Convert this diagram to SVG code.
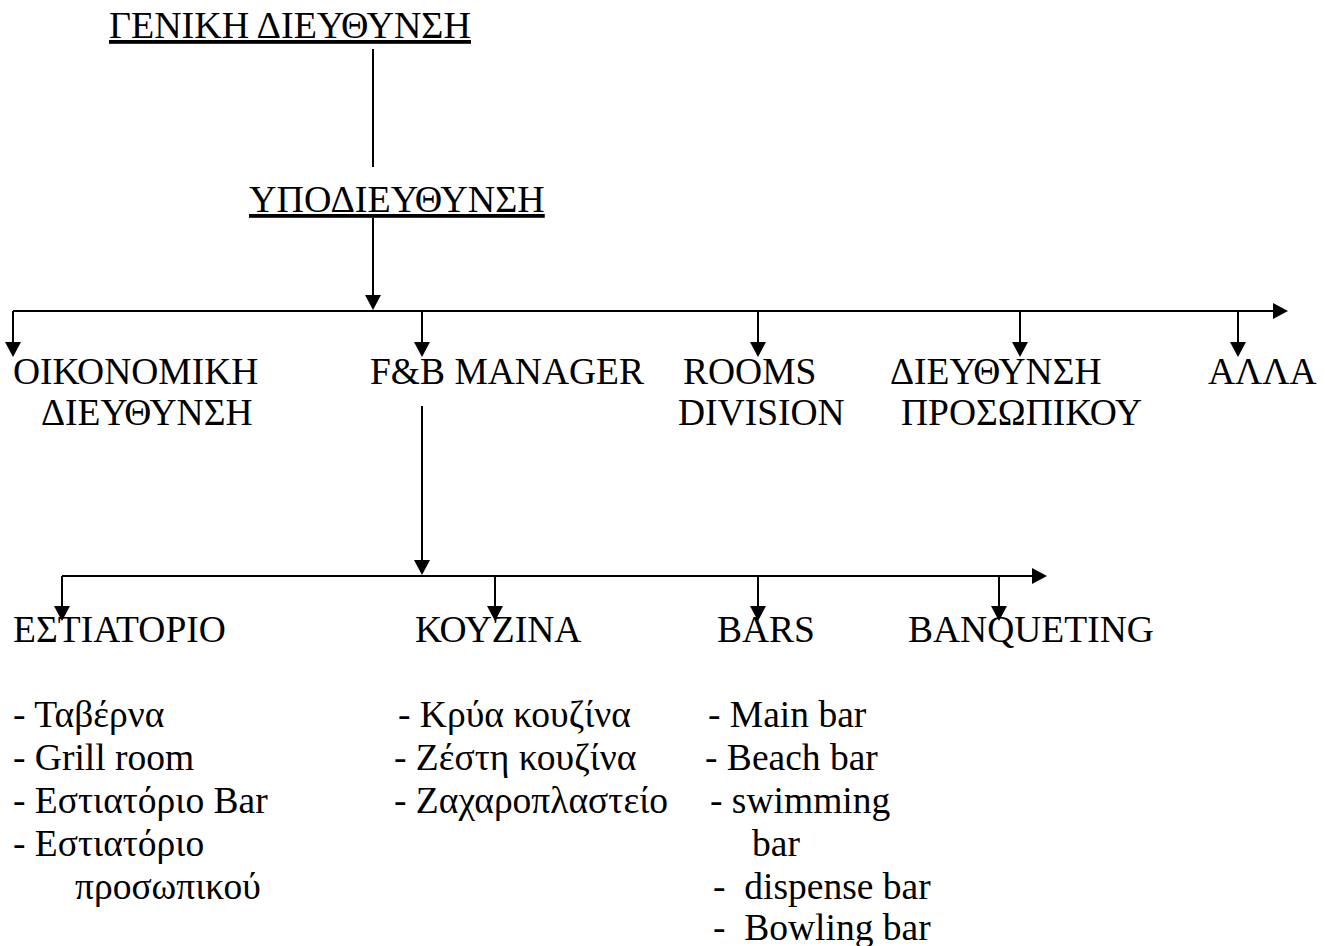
<svg xmlns="http://www.w3.org/2000/svg" width="1325" height="946" viewBox="0 0 1325 946">
<style>
text{font-family:'Liberation Serif','Times New Roman',serif;font-size:37.5px;fill:#000}
.u{text-decoration:underline;font-size:38px}
.ln{stroke:#000;stroke-width:2;fill:none}
.ar{marker-end:url(#ah)}
</style>
<defs>
<marker id="ah" markerUnits="userSpaceOnUse" viewBox="0 0 15 16" refX="11" refY="8" markerWidth="15" markerHeight="16" orient="auto">
<path d="M0,0 L15,8 L0,16 z" fill="#000"/>
</marker>
</defs>
<rect width="1325" height="946" fill="#fff"/>
<g id="connectors">
<line class="ln" x1="373" y1="49" x2="373" y2="167"/>
<line class="ln ar" x1="373" y1="218" x2="373" y2="306"/>
<line class="ln ar" x1="13" y1="311" x2="1284" y2="311"/>
<line class="ln ar" x1="13" y1="311" x2="13" y2="353"/>
<line class="ln ar" x1="422" y1="311" x2="422" y2="353"/>
<line class="ln ar" x1="758" y1="311" x2="758" y2="353"/>
<line class="ln ar" x1="1020" y1="311" x2="1020" y2="353"/>
<line class="ln ar" x1="1238" y1="311" x2="1238" y2="353"/>
<line class="ln ar" x1="422" y1="406" x2="422" y2="571"/>
<line class="ln ar" x1="62" y1="576" x2="1043" y2="576"/>
<line class="ln ar" x1="62" y1="576" x2="62" y2="617"/>
<line class="ln ar" x1="495" y1="576" x2="495" y2="617"/>
<line class="ln ar" x1="758" y1="576" x2="758" y2="617"/>
<line class="ln ar" x1="999" y1="576" x2="999" y2="617"/>
</g>
<g id="n-geniki"><text class="u" x="109" y="38">ΓΕΝΙΚΗ ΔΙΕΥΘΥΝΣΗ</text></g>
<g id="n-ypodieuthynsi"><text class="u" x="249" y="212">ΥΠΟΔΙΕΥΘΥΝΣΗ</text></g>
<g id="n-oikonomiki"><text x="13" y="384">ΟΙΚΟΝΟΜΙΚΗ</text><text x="41" y="425">ΔΙΕΥΘΥΝΣΗ</text></g>
<g id="n-fb"><text x="370" y="384">F&amp;B MANAGER</text></g>
<g id="n-rooms"><text x="683" y="384">ROOMS</text><text x="678" y="425">DIVISION</text></g>
<g id="n-prosopiko"><text x="890" y="384">ΔΙΕΥΘΥΝΣΗ</text><text x="901" y="425">ΠΡΟΣΩΠΙΚΟΥ</text></g>
<g id="n-alla"><text x="1208" y="384">ΑΛΛΑ</text></g>
<g id="n-estiatorio">
<text x="13" y="642">ΕΣΤΙΑΤΟΡΙΟ</text>
<text x="13" y="727">- Ταβέρνα</text>
<text x="13" y="770">- Grill room</text>
<text x="13" y="813">- Εστιατόριο Bar</text>
<text x="13" y="856">- Εστιατόριο</text>
<text x="75" y="899">προσωπικού</text>
</g>
<g id="n-kouzina">
<text x="415" y="642">ΚΟΥΖΙΝΑ</text>
<text x="398" y="727">- Κρύα κουζίνα</text>
<text x="394" y="770">- Ζέστη κουζίνα</text>
<text x="394" y="813">- Ζαχαροπλαστείο</text>
</g>
<g id="n-bars">
<text x="717" y="642">BARS</text>
<text x="708" y="727">- Main bar</text>
<text x="705" y="770">- Beach bar</text>
<text x="710" y="813">- swimming</text>
<text x="752" y="856">bar</text>
<text x="713" y="899" xml:space="preserve">-  dispense bar</text>
<text x="713" y="940" xml:space="preserve">-  Bowling bar</text>
</g>
<g id="n-banqueting"><text x="908" y="642">BANQUETING</text></g>
</svg>
